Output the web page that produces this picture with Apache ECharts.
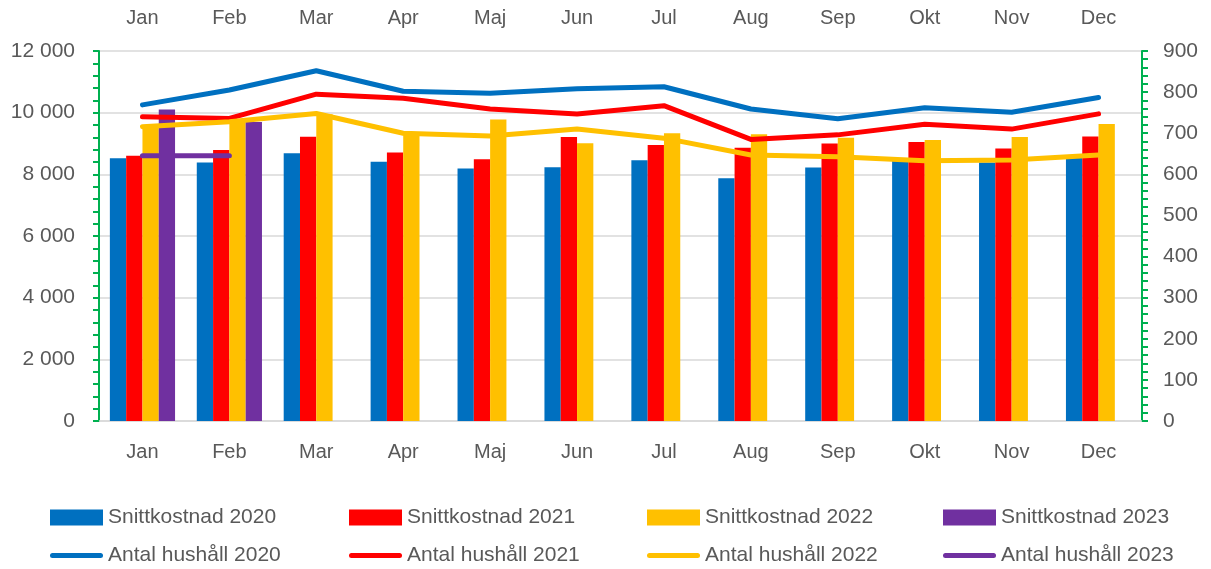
<!DOCTYPE html>
<html>
<head>
<meta charset="utf-8">
<script src="https://cdn.jsdelivr.net/npm/echarts@6/dist/echarts.min.js"></script>
<style>
  html, body { margin: 0; padding: 0; background: #fff; }
  #chart { width: 1211px; height: 569px; }
</style>
</head>
<body>
<div id="chart"></div>
<script>
const months = ['Jan', 'Feb', 'Mar', 'Apr', 'Maj', 'Jun', 'Jul', 'Aug', 'Sep', 'Okt', 'Nov', 'Dec']

// Snittkostnad (left axis)
const cost2020 = [8520, 8380, 8680, 8410, 8190, 8230, 8460, 7870, 8220, 8450, 8380, 8530]
const cost2021 = [8600, 8790, 9220, 8710, 8490, 9210, 8950, 8860, 9000, 9050, 8840, 9230]
const cost2022 = [9600, 9750, 9950, 9330, 9780, 9010, 9330, 9300, 9190, 9110, 9210, 9630]
const cost2023 = [10100, 9700]

// Antal hushåll (right axis)
const hh2020 = [769, 805, 852, 802, 797, 808, 813, 759, 735, 762, 751, 787]
const hh2021 = [740, 736, 795, 785, 759, 747, 767, 685, 696, 722, 710, 747]
const hh2022 = [716, 728, 748, 700, 693, 710, 688, 647, 643, 633, 635, 647]
const hh2023 = [645, 645]

const years = ['2020', '2021', '2022', '2023']
const colors = ['#0070C0', '#FF0000', '#FFC000', '#7030A0']
const costs = [cost2020, cost2021, cost2022, cost2023]
const households = [hh2020, hh2021, hh2022, hh2023]

const font = 'Liberation Sans, Arial, sans-serif'
const textGray = '#595959'
const green = '#00B050'
const lineIcon = 'path://M2.5,0 H50.5 A2.5,2.5 0 0 1 50.5,5 H2.5 A2.5,2.5 0 0 1 2.5,0 Z'

function spaced(v) {
    return String(v).replace(/\B(?=(\d{3})+(?!\d))/g, ' ')
}

const series = []
years.forEach((y, i) => {
    series.push({
        name: 'Snittkostnad ' + y,
        type: 'bar',
        xAxisIndex: 0,
        yAxisIndex: 0,
        data: costs[i],
        barGap: '0%',
        barCategoryGap: '25%',
        itemStyle: { color: colors[i] },
        z: 2
    })
})
years.forEach((y, i) => {
    series.push({
        name: 'Antal hushåll ' + y,
        type: 'line',
        xAxisIndex: 0,
        yAxisIndex: 1,
        data: households[i],
        symbol: 'none',
        lineStyle: { color: colors[i], width: 5, cap: 'round', join: 'round' },
        itemStyle: { color: colors[i] },
        z: 3
    })
})

// one legend per entry so the columns line up like the original
const legendLefts = [50, 349, 647, 943]
const legends = []
years.forEach((y, i) => {
    const base = {
        left: legendLefts[i],
        padding: 0,
        itemWidth: 53,
        itemHeight: 16,
        itemGap: 3,
        textStyle: { fontFamily: font, fontSize: 21, color: textGray }
    }
    legends.push(Object.assign({}, base, { top: 507, data: [{ name: 'Snittkostnad ' + y, icon: 'rect' }] }))
    legends.push(Object.assign({}, base, { top: 545, data: [{ name: 'Antal hushåll ' + y, icon: lineIcon }] }))
})

const chart = echarts.init(document.getElementById('chart'))
chart.setOption({
    animation: false,
    legend: legends,
    grid: { left: 99, right: 69, top: 51, bottom: 148 },
    xAxis: [
        {
            type: 'category',
            data: months,
            position: 'bottom',
            axisLine: { lineStyle: { color: '#D9D9D9', width: 1.5 } },
            axisTick: { show: false },
            axisLabel: { margin: 21, fontFamily: font, fontSize: 20, color: textGray }
        },
        {
            type: 'category',
            data: months,
            position: 'top',
            axisLine: { show: false },
            axisTick: { show: false },
            axisLabel: { margin: 23, fontFamily: font, fontSize: 20, color: textGray }
        }
    ],
    yAxis: [
        {
            type: 'value',
            min: 0,
            max: 12000,
            interval: 2000,
            position: 'left',
            axisLine: { show: true, lineStyle: { color: green, width: 2 } },
            axisTick: { show: true, length: 6, lineStyle: { color: green, width: 2 } },
            minorTick: { show: true, splitNumber: 5, length: 6, lineStyle: { color: green, width: 2 } },
            splitLine: { lineStyle: { color: '#D9D9D9', width: 1.5 } },
            axisLabel: { margin: 24, fontFamily: font, fontSize: 21, color: textGray, formatter: spaced }
        },
        {
            type: 'value',
            min: 0,
            max: 900,
            interval: 100,
            position: 'right',
            axisLine: { show: true, lineStyle: { color: green, width: 2 } },
            axisTick: { show: true, length: 6, lineStyle: { color: green, width: 2 } },
            minorTick: { show: true, splitNumber: 5, length: 6, lineStyle: { color: green, width: 2 } },
            splitLine: { show: false },
            axisLabel: { margin: 21, fontFamily: font, fontSize: 21, color: textGray }
        }
    ],
    series: series
})
</script>
</body>
</html>
